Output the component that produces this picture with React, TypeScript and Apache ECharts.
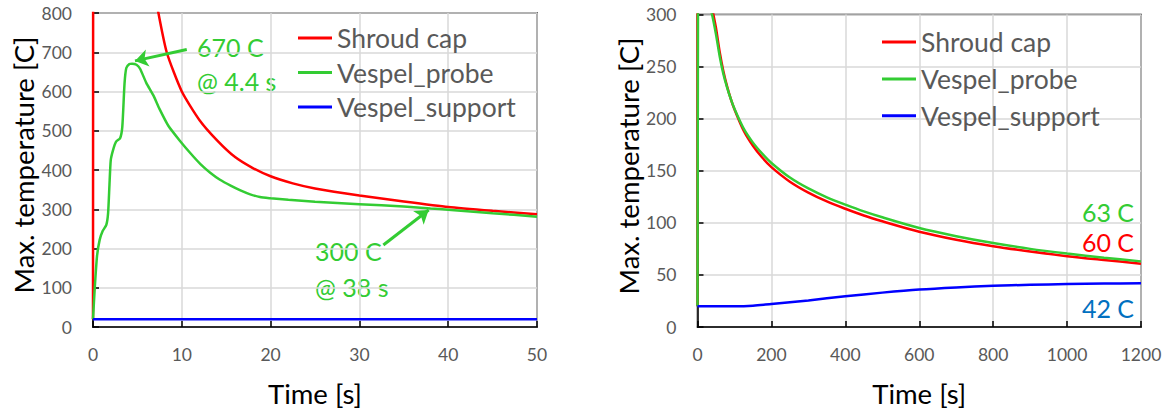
import React, { useEffect, useRef } from "react";
import * as echarts from "echarts";

// ---------- Left chart (0 - 50 s) ----------
const shortShroudTime = [0, 0.02, 0.5, 7.2, 8.3, 10, 12, 14, 16, 18, 20, 22.5, 25, 30, 35, 40, 45, 50];
const shortShroudTemp = [20, 1200, null, 820, 700, 600, 527, 475, 433, 405, 384, 366, 353, 335, 320, 306, 296, 287];

const shortProbeTime = [0, 0.2, 0.45, 0.75, 1.1, 1.5, 1.7, 1.85, 2.0, 2.25, 2.6, 3.05, 3.3, 3.55, 3.75, 4.1, 4.4, 4.9, 5.3, 6.0, 6.8, 7.5, 8.5, 9.8, 11, 12.1, 13.2, 14.3, 15.5, 16.6, 17.7, 18.8, 20, 22, 25, 30, 35, 38, 40, 45, 50];
const shortProbeTemp = [20, 100, 180, 222, 245, 260, 290, 360, 425, 450, 472, 481, 510, 620, 660, 670, 671, 668, 658, 622, 590, 555, 512, 474, 442, 415, 393, 375, 360, 348, 338, 331, 328, 324, 319, 313, 307, 302, 299, 290, 281];

const shortSupportTime = [0, 50];
const shortSupportTemp = [20, 20];

// ---------- Right chart (0 - 1200 s) ----------
const longShroudTime = [0, 0.3, 1, 10, 20, 30, 40, 50, 60, 70, 80, 90, 100, 125, 150, 175, 200, 250, 300, 350, 400, 450, 500, 600, 700, 800, 900, 1000, 1100, 1200];
const longShroudTemp = [20, 1500, null, 600, 382, 335, 306, 287, 264, 245.5, 231, 219, 209, 188.5, 174, 162.7, 153.5, 139.5, 129, 120.5, 113.5, 107, 101.5, 91.5, 83.8, 77.6, 72.5, 68, 64.3, 60.8];

const longProbeTime = [0, 1, 2, 3.5, 4.4, 6, 10, 20, 30, 40, 50, 60, 70, 80, 90, 100, 125, 150, 175, 200, 250, 300, 350, 400, 450, 500, 600, 700, 800, 900, 1000, 1100, 1200];
const longProbeTemp = [20, 248, 425, 615, 671, 622, 470, 328, 313, 299, 281, 260, 243, 230, 219, 209.5, 190.5, 177, 166.5, 157.5, 143.5, 133, 124.5, 117.5, 111, 105.3, 95, 87.2, 80.6, 75, 70.5, 66.5, 63];

const longSupportTime = [0, 100, 150, 200, 300, 400, 500, 600, 700, 800, 900, 1000, 1100, 1200];
const longSupportTemp = [20, 20, 20.5, 22, 25.5, 29.5, 33, 36, 38, 39.5, 40.5, 41.2, 41.7, 42];

// Annotation arrows (data coordinates of tail and tip)
const peakArrow = [[10.56, 707], [4.73, 678]];
const lateArrow = [[32.7, 209], [37.8, 298]];

const seriesNames = ["Shroud cap", "Vespel_probe", "Vespel_support"];
const RED = "#FF0000";
const GREEN = "#33CC33";
const BLUE = "#0000FF";
const LABEL_BLUE = "#0070C0";
const FONT = "Lato";

const zip = (t: number[], v: (number | null)[]) =>
  t.map((x, i) => [x, v[i] === null ? "-" : v[i]]);

export default function App() {
  const ref = useRef<HTMLDivElement>(null);
  useEffect(() => {
    if (!ref.current) return;
    const chart = echarts.init(ref.current, undefined, { renderer: "svg" });

    const axisCommon = {
      type: "value" as const,
      axisLine: { show: true, onZero: false, lineStyle: { color: "#000", width: 1.5 } },
      axisTick: { show: true, inside: true, length: 6, lineStyle: { color: "#000", width: 1.5 } },
      splitLine: { show: true, lineStyle: { color: "#D9D9D9", width: 1.5 } },
      nameLocation: "middle" as const,
      nameTextStyle: { fontSize: 27.5, color: "#000", fontFamily: FONT },
    };
    const xLabel = {
      margin: 18, fontSize: 17.5, color: "#595959", fontFamily: FONT,
      formatter: (v: number) => String(v),
    };
    const yLabel = { margin: 21, fontSize: 17.5, color: "#595959", fontFamily: FONT };

    const lineSeries = (name: string, color: string, data: any[], idx: number, extra: any = {}) => ({
      type: "line",
      name,
      xAxisIndex: idx,
      yAxisIndex: idx,
      data,
      symbol: "none",
      smooth: idx === 0 ? 0.2 : 0.3,
      lineStyle: { color, width: 2.5 },
      itemStyle: { color },
      ...extra,
    });

    const legendCommon = {
      orient: "vertical" as const,
      data: seriesNames,
      icon: "rect",
      itemWidth: 34,
      itemHeight: 3,
      textStyle: { fontSize: 26.5, lineHeight: 26, color: "#595959", fontFamily: FONT },
      selectedMode: false,
    };

    const txt = (text: string, x: number, y: number, fill: string, align = "left", extra: any = {}) => ({
      type: "text",
      x,
      y,
      ...extra,
      style: {
        text,
        fill,
        fontSize: 25,
        fontFamily: FONT,
        align,
        textAlign: align,
        verticalAlign: "middle",
        textVerticalAlign: "middle",
        ...(extra.style || {}),
      },
    });

    const yTitle = (x: number, y: number) =>
      txt("Max. temperature [C]", x, y, "#000", "center", {
        rotation: Math.PI / 2,
        style: { fontSize: 27.5 },
      });

    chart.setOption({
      animation: false,
      grid: [
        { left: 93, top: 13, width: 444, height: 314, show: true, borderColor: "#000", borderWidth: 1.5, backgroundColor: "transparent" },
        { left: 697.5, top: 14.5, width: 443.5, height: 315.5, show: true, borderColor: "#000", borderWidth: 1.5, backgroundColor: "transparent" },
      ],
      xAxis: [
        { ...axisCommon, gridIndex: 0, min: 0, max: 50, interval: 10, name: "Time [s]", nameGap: 52, axisLabel: xLabel },
        { ...axisCommon, gridIndex: 1, min: 0, max: 1200, interval: 200, name: "Time [s]", nameGap: 52, axisLabel: xLabel },
      ],
      yAxis: [
        { ...axisCommon, gridIndex: 0, min: 0, max: 800, interval: 100, axisLabel: yLabel },
        { ...axisCommon, gridIndex: 1, min: 0, max: 300, interval: 50, axisLabel: yLabel },
      ],
      legend: [
        { ...legendCommon, left: 293, top: 19.5, itemGap: 7.5 },
        { ...legendCommon, left: 877, top: 23.5, itemGap: 9.9 },
      ],
      series: [
        lineSeries(seriesNames[0], RED, zip(shortShroudTime, shortShroudTemp), 0),
        lineSeries(seriesNames[1], GREEN, zip(shortProbeTime, shortProbeTemp), 0, {
          markLine: {
            silent: true,
            symbol: ["none", "arrow"],
            symbolSize: 13,
            label: { show: false },
            lineStyle: { color: GREEN, width: 3, type: "solid" },
            data: [
              [{ coord: peakArrow[0] }, { coord: peakArrow[1] }],
              [{ coord: lateArrow[0] }, { coord: lateArrow[1] }],
            ],
          },
        }),
        lineSeries(seriesNames[2], BLUE, zip(shortSupportTime, shortSupportTemp), 0),
        lineSeries(seriesNames[0], RED, zip(longShroudTime, longShroudTemp), 1),
        lineSeries(seriesNames[1], GREEN, zip(longProbeTime, longProbeTemp), 1),
        lineSeries(seriesNames[2], BLUE, zip(longSupportTime, longSupportTemp), 1),
      ],
      graphic: [
        txt("670 C", 197, 47, GREEN),
        txt("@ 4.4 s", 197, 81, GREEN),
        txt("300 C", 315, 251, GREEN),
        txt("@ 38 s", 315, 287, GREEN),
        txt("63 C", 1134, 212, GREEN, "right"),
        txt("60 C", 1134, 242, RED, "right"),
        txt("42 C", 1134, 308, LABEL_BLUE, "right"),
        yTitle(23, 165),
        yTitle(628, 166),
      ],
    });
    return () => chart.dispose();
  }, []);

  return (
    <div
      ref={ref}
      style={{ position: "fixed", left: 0, top: 0, width: 1172, height: 412, background: "#fff" }}
    />
  );
}
